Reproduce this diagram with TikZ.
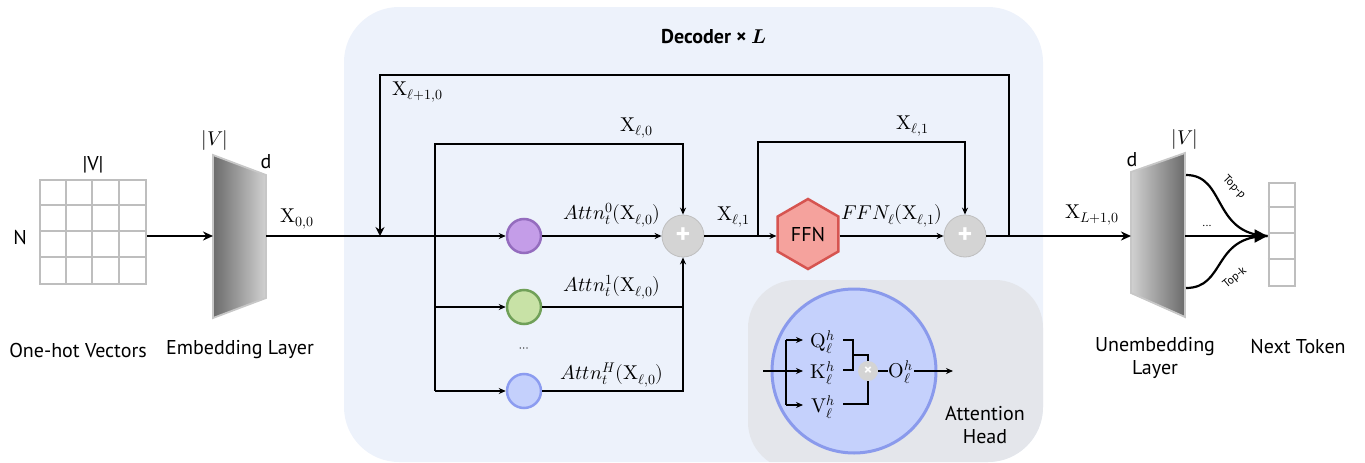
\documentclass[tikz,border=0pt]{standalone}
\usepackage{fontspec}
\usepackage{unicode-math}
\setmainfont{PT Sans}
\setmathfont{Latin Modern Math}
\usetikzlibrary{arrows.meta,shapes.geometric,calc}
\definecolor{decbg}{RGB}{237,242,251}
\definecolor{headbg}{RGB}{228,230,235}
\definecolor{hcfill}{RGB}{197,209,252}
\definecolor{hcdraw}{RGB}{138,154,236}
\definecolor{pfill}{RGB}{196,157,232}
\definecolor{pdraw}{RGB}{148,108,190}
\definecolor{gfill}{RGB}{200,226,166}
\definecolor{gdraw}{RGB}{112,160,88}
\definecolor{bfill}{RGB}{196,208,252}
\definecolor{bdraw}{RGB}{140,156,240}
\definecolor{plusc}{RGB}{212,212,212}
\definecolor{ffnfill}{RGB}{245,162,157}
\definecolor{ffndraw}{RGB}{214,84,80}
\definecolor{gridc}{RGB}{190,190,190}
\newcommand{\Xu}{\symup{X}}
\tikzset{
  wire/.style={line width=2pt, black},
  arr/.style={wire, -{Stealth[length=7pt,width=6pt]}},
  bigarr/.style={line width=2.4pt, -{Stealth[length=10pt,width=9pt]}},
  headc/.style={circle, minimum size=34pt, inner sep=0pt, line width=2.5pt},
  plusnode/.style={circle, fill=plusc, draw=plusc!90!black, line width=0.8pt, minimum size=42pt, inner sep=0pt, text=white, font=\fontsize{28}{28}\selectfont\bfseries},
  lbl/.style={inner sep=1pt},
  smalltxt/.style={font=\fontsize{11.5}{12}\selectfont, inner sep=0.5pt},
}
\begin{document}
\begin{tikzpicture}[x=1pt,y=-1pt,font=\fontsize{20}{23}\selectfont]
\useasboundingbox (0,0) rectangle (1365,463);
% decoder background
\fill[decbg, rounded corners=55pt] (344,7) rectangle (1043,462);
\begin{scope}
\clip[rounded corners=55pt] (344,7) rectangle (1043,462);
\fill[headbg, rounded corners=48pt] (748,280) rectangle (1043,470);
\end{scope}
\node[font=\fontsize{20}{23}\selectfont\bfseries] (title) at (714,37) {Decoder × $\symbfit{L}$};

% one-hot grid
\node[draw=gridc, line width=2pt, minimum width=106pt, minimum height=104pt, inner sep=0pt] (grid) at (93,232) {};
\foreach \i in {1,2,3} {
  \draw[gridc, line width=2pt] ($(grid.north west)+(26.5*\i,0)$) -- ($(grid.south west)+(26.5*\i,0)$);
  \draw[gridc, line width=2pt] ($(grid.north west)+(0,26*\i)$) -- ($(grid.north east)+(0,26*\i)$);
}
\node (gV) at (93,165) {|V|};
\node (gN) at (20,237) {N};
\node (onehot) at (78,350) {One-hot Vectors};

% embedding
\shadedraw[left color=black!58, right color=black!18, draw=black!22, line width=1.8pt]
  (213,155) -- (266,175) -- (266,298) -- (213,318) -- cycle;
\coordinate (embL) at (213,236);
\coordinate (embR) at (266,236);
\node (eV) at (215,140) {$|V|$};
\node (ed) at (266,162) {d};
\node (embtxt) at (240,350) {Embedding Layer};
\draw[bigarr, line width=2.2pt] (grid.east |- embL) -- (embL);
\node[lbl] (x00) at (297,219) {$\Xu_{0,0}$};

% heads
\node[headc, fill=pfill, draw=pdraw] (hp) at (524,236) {};
\node[headc, fill=gfill, draw=gdraw] (hg) at (524,307) {};
\node[headc, fill=bfill, draw=bdraw] (hb) at (524,391) {};
\node (hdots) at (524,350) {\fontsize{12}{12}\selectfont $\cdots$};
\node[plusnode] (p1) at (683,236) {+};

\coordinate (fbin) at (380,236);
\coordinate (r1) at (435,236);
\coordinate (r1top) at (435,144);
\coordinate (r1bot) at (435,391);

\draw[arr] (embR) -- (hp.west);
\draw[arr] (hp.east) -- (p1.west);
\draw[arr] (r1) -- (r1top) -| (p1.north);
\draw[wire] (r1) -- (r1bot);
\draw[arr] (r1 |- hg) -- (hg.west);
\draw[arr] (r1bot) -- (hb.west);
\draw[wire] (hg.east) -- (hg -| p1);
\draw[arr] (hb.east) -| (p1.south);

\node[lbl] (a0) at (612,215) {$Attn_t^0(\Xu_{\ell,0})$};
\node[lbl] (a1) at (612,287) {$Attn_t^1(\Xu_{\ell,0})$};
\node[lbl] (aH) at (612,375) {$Attn_t^H(\Xu_{\ell,0})$};
\node[lbl] (xl0) at (637,128) {$\Xu_{\ell,0}$};

% FFN
\node[regular polygon, regular polygon sides=6, shape border rotate=30, minimum size=70pt, inner sep=0pt, fill=ffnfill, draw=ffndraw, line width=2.5pt] (ffn) at (808,234) {FFN};
\node[plusnode] (p2) at (965,236) {+};
\coordinate (r2) at (758,236);
\coordinate (r2top) at (758,142);
\draw[arr] (p1.east) -- (ffn.west |- p1);
\draw[arr] (r2) -- (r2top) -| (p2.north);
\draw[arr] (ffn.east |- p2) -- (p2.west);
\node[lbl] (xl1a) at (734,217) {$\Xu_{\ell,1}$};
\node[lbl] (xl1b) at (913,126) {$\Xu_{\ell,1}$};
\node[lbl] (ffnl) at (892,216) {$FFN_{\ell}(\Xu_{\ell,1})$};

% feedback
\coordinate (fbj) at (1009,236);
\coordinate (fbtop) at (1009,75);
\draw[line width=2.4pt, -{Stealth[length=9pt,width=9pt]}] (fbj) -- (fbtop) -| (fbin);
\node[lbl] (xl10) at (418,92) {$\Xu_{\ell+1,0}$};

% unembedding
\shadedraw[left color=black!18, right color=black!58, draw=black!22, line width=1.8pt]
  (1131,172) -- (1185,153) -- (1185,317) -- (1131,293) -- cycle;
\coordinate (unL) at (1131,236);
\coordinate (unR) at (1185,236);
\draw[bigarr] (p2.east) -- (unL);
\node[lbl] (xL) at (1092,215) {$\Xu_{L+1,0}$};
\node (ud) at (1132,160) {d};
\node (uV) at (1185,139) {$|V|$};
\node[align=center] (untxt) at (1155,358) {Unembedding\\Layer};

% next token
\node[draw=gridc, line width=2pt, minimum width=26pt, minimum height=103pt, inner sep=0pt] (tok) at (1281.5,234) {};
\foreach \i in {1,2,3} {
  \draw[gridc, line width=2pt] ($(tok.north west)+(0,25.75*\i)$) -- ($(tok.north east)+(0,25.75*\i)$);
}
\node (nexttxt) at (1298,347) {Next Token};
\coordinate (ctop) at (1186,175);
\coordinate (cbot) at (1186,288);
\draw[line width=2.2pt] (ctop) .. controls (1226,175) and (1212,234) .. (tok.west |- unR);
\draw[line width=2.2pt] (cbot) .. controls (1226,288) and (1212,236) .. (tok.west |- unR);
\draw[line width=2.2pt, -{Triangle[length=13pt,width=13pt]}] (unR) -- (tok.west |- unR);
\node[smalltxt] (udots) at (1207,226) {...};
\node[smalltxt, rotate=-46] (topp) at (1234,187) {Top-p};
\node[smalltxt, rotate=40] (topk) at (1235,278) {Top-k};

% attention head detail
\node[circle, minimum size=164pt, inner sep=0pt, fill=hcfill, draw=hcdraw, line width=3pt] (hc) at (854,371) {};
\node[lbl] (Q) at (823,342) {$\symup{Q}_{\ell}^{h}$};
\node[lbl] (K) at (823,373) {$\symup{K}_{\ell}^{h}$};
\node[lbl] (V) at (823,407) {$\symup{V}_{\ell}^{h}$};
\node[circle, fill=plusc, minimum size=20pt, inner sep=0pt, text=white, font=\fontsize{16}{16}\selectfont\bfseries] (mul) at (868,371) {×};
\node[lbl] (O) at (901,372) {$\symup{O}_{\ell}^{h}$};
\coordinate (hin) at (763,371);
\coordinate (hbr) at (786,371);
\coordinate (hbrt) at (786,340);
\coordinate (hbrb) at (786,405);
\coordinate (hout) at (953,371);
\draw[wire] (hin) -- (hbr);
\draw[wire] (hbrt) -- (hbrb);
\draw[arr] (hbrt) -- (803,340);
\draw[arr] (hbr) -- (803,371);
\draw[arr] (hbrb) -- (803,405);
\draw[wire] (843,340) -- (853,340) -- (853,370) -- (843,370);
\draw[wire] (853,355) -| (mul.north);
\draw[wire] (843,404) -| (mul.south);
\draw[wire] (mul.east) -- (O.west |- mul);
\draw[arr] (O.east |- mul) -- (hout);
\node[align=center] (ahtxt) at (985,425) {Attention\\Head};
\end{tikzpicture}
\end{document}
